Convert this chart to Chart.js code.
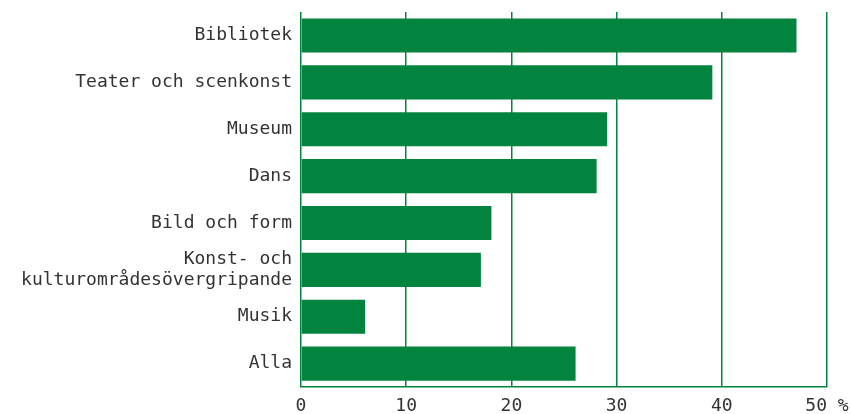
<!DOCTYPE html>
<html>
<head>
<meta charset="utf-8">
<script src="https://cdn.jsdelivr.net/npm/chart.js@4/dist/chart.umd.min.js"></script>
<style>
  html, body { margin: 0; padding: 0; background: #fff; }
  #wrap { width: 851px; height: 414px; position: relative; }
</style>
</head>
<body>
<div id="wrap"><canvas id="grafica"></canvas></div>
<script>
const kategorier = [
  "Bibliotek",
  "Teater och scenkonst",
  "Museum",
  "Dans",
  "Bild och form",
  ["Konst- och", "kulturområdesövergripande"],
  "Musik",
  "Alla"
];
const andelar = [47.1, 39.1, 29.1, 28.1, 18.1, 17.1, 6.1, 26.1];
const skalsteg = [0, 10, 20, 30, 40, 50];

const gron = "#02843e";
const typsnitt = { family: "'DejaVu Sans Mono', 'Liberation Mono', monospace", size: 18 };

Chart.defaults.font.family = typsnitt.family;
Chart.defaults.color = "#333333";

new Chart(document.getElementById("grafica"), {
  type: "bar",
  data: {
    labels: kategorier,
    datasets: [{
      data: andelar,
      backgroundColor: gron,
      borderWidth: 0,
      categoryPercentage: 0.8,
      barPercentage: 0.91
    }]
  },
  options: {
    indexAxis: "y",
    responsive: true,
    maintainAspectRatio: false,
    animation: false,
    layout: { padding: { top: 12, right: 24, left: 0, bottom: 0 } },
    plugins: { legend: { display: false }, tooltip: { enabled: false } },
    scales: {
      x: {
        min: 0,
        max: 50,
        afterBuildTicks: function(axis) {
          axis.ticks = skalsteg.map(v => ({ value: v }));
        },
        afterFit: function(axis) {
          axis.height = 27;
          axis.paddingLeft = 0;
          axis.paddingRight = 0;
        },
        grid: { color: gron, lineWidth: 1.5, drawTicks: false },
        border: { color: gron, width: 1.5 },
        ticks: {
          font: typsnitt,
          color: "#333333",
          padding: 9,
          maxRotation: 0,
          callback: function(v) { return v === 50 ? "50 %" : String(v); }
        }
      },
      y: {
        afterFit: function(axis) {
          axis.width = 301;
          axis.paddingTop = 0;
          axis.paddingBottom = 0;
        },
        grid: { display: false, drawTicks: false },
        border: { display: false },
        ticks: {
          font: Object.assign({ lineHeight: 1.2 }, typsnitt),
          color: "#333333",
          padding: 9,
          autoSkip: false
        }
      }
    }
  }
});
</script>
</body>
</html>
